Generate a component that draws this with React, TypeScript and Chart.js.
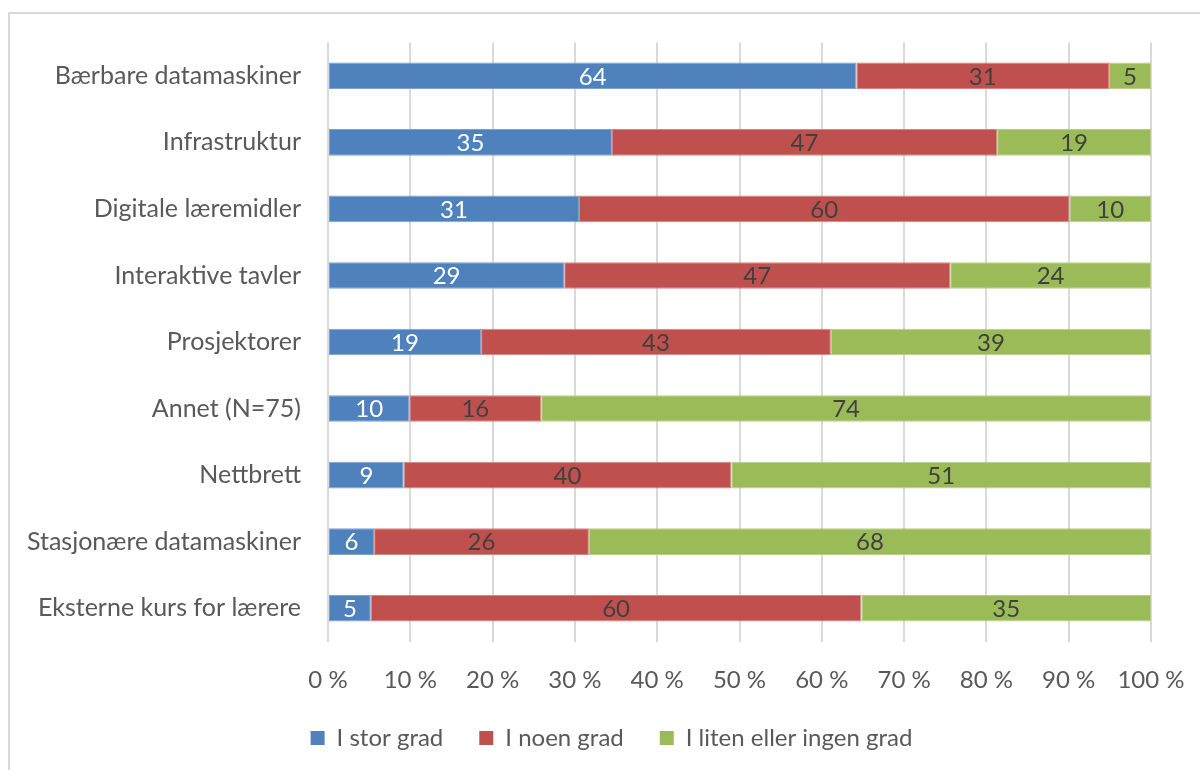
import React, { useEffect, useRef } from "react";
import { Chart, registerables } from "chart.js";

Chart.register(...registerables);

const categories = [
  "Bærbare datamaskiner",
  "Infrastruktur",
  "Digitale læremidler",
  "Interaktive tavler",
  "Prosjektorer",
  "Annet (N=75)",
  "Nettbrett",
  "Stasjonære datamaskiner",
  "Eksterne kurs for lærere",
];

const seriesNames = ["I stor grad", "I noen grad", "I liten eller ingen grad"];

const storGrad = [64.2, 34.5, 30.5, 28.7, 18.6, 9.9, 9.2, 5.6, 5.2];
const noenGrad = [30.7, 46.8, 59.6, 46.9, 42.5, 16.0, 39.8, 26.1, 59.6];
const litenGrad = [5.1, 18.7, 9.9, 24.4, 38.9, 74.1, 51.0, 68.3, 35.2];

const xTicks = [0, 10, 20, 30, 40, 50, 60, 70, 80, 90, 100];

const colors = ["#4F81BD", "#C0504D", "#9BBB59"];
const edgeColors = ["#7FA1CF", "#D58583", "#B7CF8A"];
const labelColors = ["#FFFFFF", "#404040", "#404040"];

const FONT = "Lato";
const FS = 24;

const valueLabels = {
  id: "valueLabels",
  afterDatasetsDraw(chart: any) {
    const ctx = chart.ctx;
    ctx.save();
    ctx.font = `${FS}px ${FONT}`;
    ctx.textAlign = "center";
    ctx.textBaseline = "middle";
    chart.data.datasets.forEach((ds: any, di: number) => {
      const meta = chart.getDatasetMeta(di);
      meta.data.forEach((bar: any, i: number) => {
        const v = ds.data[i];
        const cx = (bar.x + bar.base) / 2;
        ctx.fillStyle = labelColors[di];
        ctx.fillText(String(Math.round(v)), cx, bar.y + 1);
      });
    });
    ctx.restore();
  },
};

const legendShift = {
  id: "legendShift",
  afterLayout(chart: any) {
    if (chart.legend) {
      chart.legend.left += 36;
      chart.legend.right += 36;
    }
  },
};

export default function App() {
  const ref = useRef<HTMLCanvasElement>(null);
  useEffect(() => {
    if (!ref.current) return;
    const data = [storGrad, noenGrad, litenGrad];
    const chart = new Chart(ref.current, {
      type: "bar",
      data: {
        labels: categories,
        datasets: seriesNames.map((name, i) => ({
          label: name,
          data: data[i],
          backgroundColor: colors[i],
          borderColor: edgeColors[i],
          borderWidth: 1,
          borderSkipped: false,
          categoryPercentage: 1,
          barPercentage: 0.4,
        })),
      },
      options: {
        indexAxis: "y",
        responsive: false,
        animation: false,
        devicePixelRatio: 1,
        layout: { padding: { top: 42.5, right: 49, left: 0, bottom: 10 } },
        scales: {
          x: {
            stacked: true,
            min: 0,
            max: 100,
            afterBuildTicks(scale: any) {
              scale.ticks = xTicks.map((v) => ({ value: v }));
            },
            afterFit(scale: any) {
              scale.height = 48.5;
              scale.paddingLeft = 0;
              scale.paddingRight = 0;
            },
            grid: { color: "#D9D9D9", lineWidth: 2, drawTicks: false },
            border: { display: false },
            ticks: {
              color: "#595959",
              font: { family: FONT, size: FS },
              padding: 24,
              callback: (v: any) => `${v} %`,
            },
          },
          y: {
            stacked: true,
            afterFit(scale: any) {
              scale.width = 328;
              scale.paddingTop = 0;
              scale.paddingBottom = 0;
            },
            grid: { display: false, drawTicks: false },
            border: { display: false },
            ticks: {
              color: "#595959",
              font: { family: FONT, size: 25 },
              padding: 27,
            },
          },
        },
        plugins: {
          legend: {
            position: "bottom",
            labels: {
              boxWidth: 14,
              boxHeight: 14,
              padding: 36,
              color: "#595959",
              font: { family: FONT, size: FS },
              generateLabels: (c: any) =>
                c.data.datasets.map((ds: any, i: number) => ({
                  text: ds.label,
                  fillStyle: colors[i],
                  strokeStyle: colors[i],
                  lineWidth: 0,
                  fontColor: "#595959",
                  datasetIndex: i,
                  hidden: false,
                })),
            },
          },
          tooltip: { enabled: false },
        },
      },
      plugins: [valueLabels, legendShift],
    } as any);
    return () => chart.destroy();
  }, []);

  return (
    <div
      style={{
        position: "fixed",
        left: 0,
        top: 0,
        width: 1200,
        height: 770,
        overflow: "hidden",
        background: "#fff",
      }}
    >
      <div
        style={{
          position: "absolute",
          left: 8,
          top: 12,
          width: 1300,
          height: 900,
          border: "2px solid #D9D9D9",
        }}
      />
      <canvas
        ref={ref}
        width={1200}
        height={770}
        style={{ position: "absolute", left: 0, top: 0 }}
      />
    </div>
  );
}
